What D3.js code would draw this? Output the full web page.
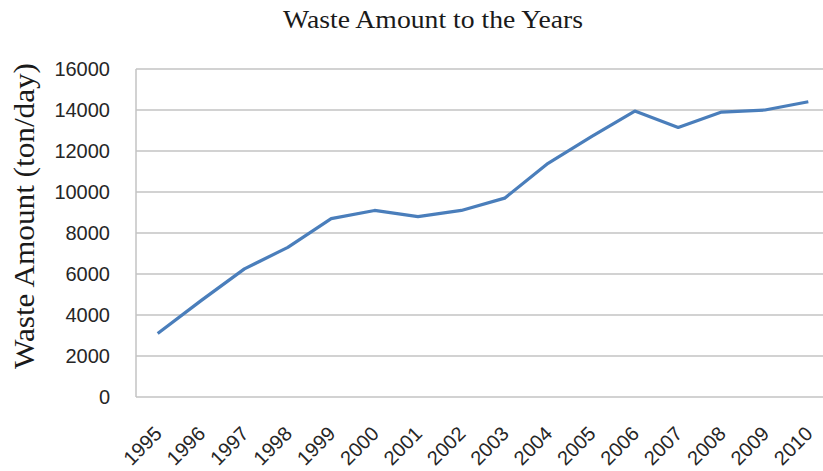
<!DOCTYPE html>
<html>
<head>
<meta charset="utf-8">
<script src="https://cdn.jsdelivr.net/npm/d3@7"></script>
<style>
  html, body { margin: 0; padding: 0; background: #ffffff; }
  svg { display: block; }
</style>
</head>
<body>
<svg id="chart" width="823" height="471"></svg>
<script>
// Daily waste amount per year
const years = ["1995","1996","1997","1998","1999","2000","2001","2002",
               "2003","2004","2005","2006","2007","2008","2009","2010"];
const wasteTonPerDay = [3100, 4700, 6250, 7300, 8700, 9100, 8800, 9100,
                        9700, 11400, 12700, 13950, 13150, 13900, 14000, 14400];
const yTicks = [0, 2000, 4000, 6000, 8000, 10000, 12000, 14000, 16000];

const svg = d3.select("#chart");
const plot = { left: 136, top: 69, bottom: 397, right: 830 };

const x = d3.scalePoint()
  .domain(years)
  .range([plot.left, plot.right])
  .padding(0.5);

const y = d3.scaleLinear()
  .domain([0, 16000])
  .range([plot.bottom, plot.top]);

// horizontal gridlines
svg.append("g")
  .selectAll("line")
  .data(yTicks)
  .join("line")
  .attr("x1", plot.left)
  .attr("x2", plot.right)
  .attr("y1", d => y(d))
  .attr("y2", d => y(d))
  .attr("stroke", "#c3c3c3")
  .attr("stroke-width", 1.5);

// left border of plot area
svg.append("line")
  .attr("x1", plot.left).attr("x2", plot.left)
  .attr("y1", plot.top).attr("y2", plot.bottom)
  .attr("stroke", "#c3c3c3")
  .attr("stroke-width", 1.5);

// y axis labels
const yAxis = d3.axisLeft(y).tickValues(yTicks).tickFormat(d3.format("d"))
  .tickSize(0).tickPadding(0);
const gy = svg.append("g")
  .attr("transform", `translate(110,0)`)
  .call(yAxis);
gy.select(".domain").remove();
gy.selectAll("text")
  .attr("font-family", "'Liberation Sans', Arial, sans-serif")
  .attr("font-size", 20)
  .attr("fill", "#262626");

// x axis labels, rotated
const xAxis = d3.axisBottom(x).tickSize(0).tickPadding(0);
const gx = svg.append("g")
  .attr("transform", `translate(0,${plot.bottom})`)
  .call(xAxis);
gx.select(".domain").remove();
gx.selectAll("text")
  .attr("font-family", "'Liberation Sans', Arial, sans-serif")
  .attr("font-size", 20)
  .attr("fill", "#262626")
  .attr("text-anchor", "end")
  .attr("dy", null)
  .attr("y", 0)
  .attr("transform", "translate(5,38) rotate(-45)");

// data line
const line = d3.line()
  .x((d, i) => x(years[i]))
  .y(d => y(d));

svg.append("path")
  .datum(wasteTonPerDay)
  .attr("d", line)
  .attr("fill", "none")
  .attr("stroke", "#4a7ebb")
  .attr("stroke-width", 3.2)
  .attr("stroke-linejoin", "round");

// title
svg.append("text")
  .attr("x", 433)
  .attr("y", 28)
  .attr("text-anchor", "middle")
  .attr("font-family", "'Liberation Serif', 'Times New Roman', serif")
  .attr("font-size", 26)
  .attr("textLength", 300)
  .attr("lengthAdjust", "spacingAndGlyphs")
  .attr("fill", "#1a1a1a")
  .text("Waste Amount to the Years");

// y axis title
svg.append("text")
  .attr("transform", "translate(34,216) rotate(-90)")
  .attr("text-anchor", "middle")
  .attr("font-family", "'Liberation Serif', 'Times New Roman', serif")
  .attr("font-size", 29)
  .attr("textLength", 306)
  .attr("lengthAdjust", "spacingAndGlyphs")
  .attr("fill", "#1a1a1a")
  .text("Waste Amount (ton/day)");
</script>
</body>
</html>
